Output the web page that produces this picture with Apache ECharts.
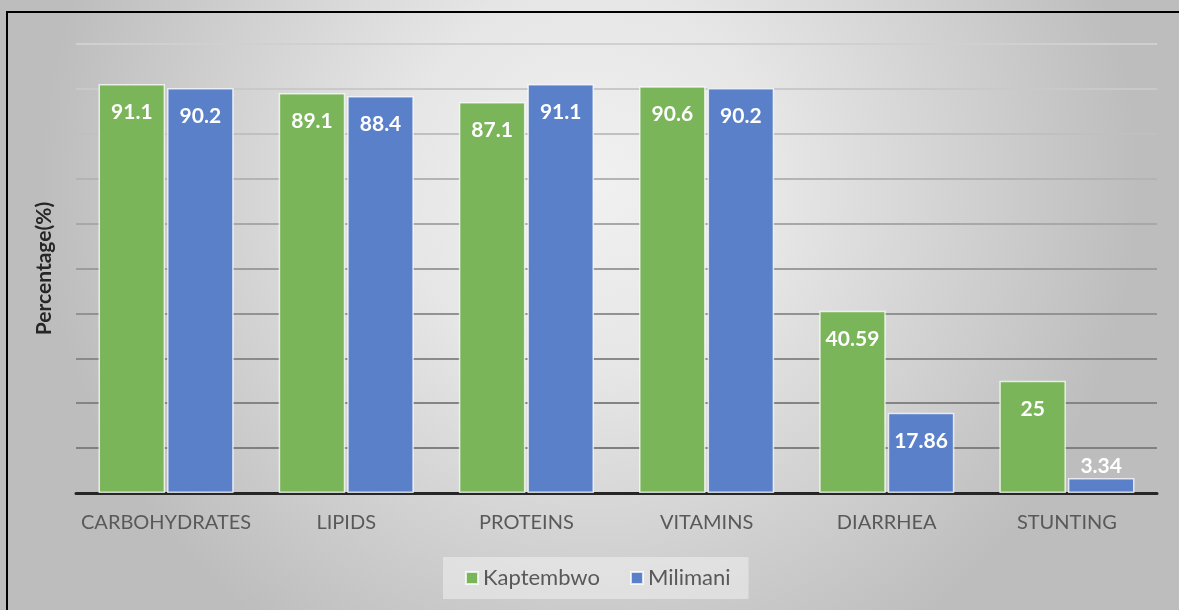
<!DOCTYPE html>
<html>
<head>
<meta charset="utf-8">
<script src="https://cdn.jsdelivr.net/npm/echarts@6/dist/echarts.min.js"></script>
<style>
  html, body { margin: 0; padding: 0; }
  #chart { width: 1179px; height: 610px; }
</style>
</head>
<body>
<div id="chart"></div>
<script>
const categories = ['CARBOHYDRATES', 'LIPIDS', 'PROTEINS', 'VITAMINS', 'DIARRHEA', 'STUNTING'];
const kaptembwo = [91.1, 89.1, 87.1, 90.6, 40.59, 25];
const milimani = [90.2, 88.4, 91.1, 90.2, 17.86, 3.34];

// gridline shades, from the baseline up (darker near the bottom)
const gridColors = ['#7f7f7f', '#808080', '#848484', '#8a8a8a', '#929292', '#9c9c9c',
  '#a8a8a8', '#b4b4b4', '#c0c0c0', '#c9c9c9', '#d0d0d0'];

const chart = echarts.init(document.getElementById('chart'));

const labelStyle = {
  show: true,
  position: 'insideTop',
  distance: 18,
  color: '#ffffff',
  fontFamily: 'Lato',
  fontWeight: 'bold',
  fontSize: 21
};

const option = {
  backgroundColor: {
    type: 'radial', x: 0.5, y: 0.3, r: 0.9,
    colorStops: [
      {offset: 0, color: '#f1f1f1'},
      {offset: 0.35, color: '#e6e6e6'},
      {offset: 1, color: '#bdbdbd'}
    ]
  },
  textStyle: {fontFamily: 'Lato'},
  graphic: [{
    type: 'rect',
    shape: {x: 7, y: 12, width: 1190, height: 620},
    style: {fill: 'none', stroke: '#000', lineWidth: 2}
  }],
  grid: {left: 76, right: 22, top: 44, bottom: 117},
  legend: {
    left: 443,
    top: 557,
    padding: [10, 18, 10, 22],
    backgroundColor: 'rgba(240,240,240,0.55)',
    icon: 'rect',
    itemWidth: 12,
    itemHeight: 12,
    itemGap: 30,
    textStyle: {color: '#595959', fontSize: 22, fontFamily: 'Lato'},
    data: ['Kaptembwo', 'Milimani']
  },
  xAxis: {
    type: 'category',
    data: categories,
    axisLine: {lineStyle: {color: '#262626', width: 3}},
    axisTick: {show: false},
    axisLabel: {color: '#595959', fontSize: 20, margin: 20, interval: 0}
  },
  yAxis: {
    type: 'value',
    min: 0,
    max: 100,
    interval: 10,
    name: 'Percentage(%)',
    nameLocation: 'middle',
    nameGap: 21,
    nameTextStyle: {color: '#262626', fontWeight: 'bold', fontSize: 21},
    axisLabel: {show: false},
    axisTick: {show: false},
    axisLine: {show: false},
    splitLine: {lineStyle: {color: gridColors, width: 2}}
  },
  series: [
    {
      name: 'Kaptembwo',
      type: 'bar',
      data: kaptembwo,
      barGap: '3%',
      barCategoryGap: '25%',
      itemStyle: {color: '#7ab55a', borderColor: 'rgba(255,255,255,0.75)', borderWidth: 1.5},
      label: labelStyle
    },
    {
      name: 'Milimani',
      type: 'bar',
      data: milimani.map((v, i) => i === milimani.length - 1
        ? {value: v, label: {position: 'top', distance: 1}}
        : v),
      itemStyle: {color: '#5a80c9', borderColor: 'rgba(255,255,255,0.75)', borderWidth: 1.5},
      label: labelStyle
    }
  ]
};

chart.setOption(option);
</script>
</body>
</html>
